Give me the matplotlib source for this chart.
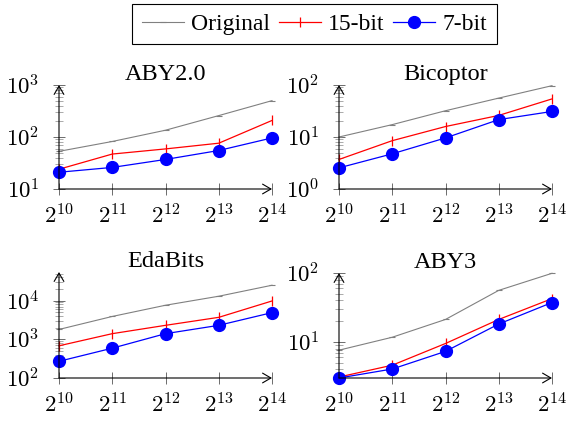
import matplotlib
matplotlib.use("Agg")
import matplotlib.pyplot as plt
from matplotlib.ticker import LogLocator, FixedLocator, NullFormatter, FixedFormatter

plt.rcParams['mathtext.fontset'] = 'cm'
plt.rcParams['font.family'] = ['Liberation Serif', 'DejaVu Serif']

x = [2**10, 2**11, 2**12, 2**13, 2**14]
xlabels = [r'$2^{10}$', r'$2^{11}$', r'$2^{12}$', r'$2^{13}$', r'$2^{14}$']

titles = ['ABY2.0', 'Bicoptor', 'EdaBits', 'ABY3']
series_names = ['Original', '15-bit', '7-bit']

aby2_original = [53, 82, 135, 258, 500]
aby2_15bit = [24, 47, 59, 76, 208]
aby2_7bit = [21, 26, 37, 55, 96]

bicoptor_original = [10, 17.3, 32, 56, 97]
bicoptor_15bit = [3.7, 8.5, 15.9, 26, 54]
bicoptor_7bit = [2.55, 4.75, 9.6, 21.6, 31]

edabits_original = [1800, 3900, 7600, 13000, 25000]
edabits_15bit = [680, 1400, 2300, 3700, 9800]
edabits_7bit = [270, 590, 1400, 2300, 4900]

aby3_original = [7.6, 11.7, 21.2, 56, 99]
aby3_15bit = [3.1, 4.6, 9.5, 21.2, 42.5]
aby3_7bit = [3.0, 4.05, 7.3, 18.2, 37.3]

ylims = [(10, 1000), (1, 100), (100, 55000), (3.0, 100)]
yticks = [[10, 100, 1000], [1, 10, 100], [100, 1000, 10000], [10, 100]]
ytlabels = [[r'$10^{1}$', r'$10^{2}$', r'$10^{3}$'],
            [r'$10^{0}$', r'$10^{1}$', r'$10^{2}$'],
            [r'$10^{2}$', r'$10^{3}$', r'$10^{4}$'],
            [r'$10^{1}$', r'$10^{2}$']]

data = [
    (aby2_original, aby2_15bit, aby2_7bit),
    (bicoptor_original, bicoptor_15bit, bicoptor_7bit),
    (edabits_original, edabits_15bit, edabits_7bit),
    (aby3_original, aby3_15bit, aby3_7bit),
]

W, H = 568, 422
fig = plt.figure(figsize=(W / 100, H / 100), dpi=100)

# axes boxes in pixels: (left, right, top, bottom)
boxes = [(59, 272, 85, 189), (339, 552, 85, 189), (59, 272, 272, 378), (339, 552, 273, 378)]

handles = None
for i, (l, r, t, b) in enumerate(boxes):
    ax = fig.add_axes([l / W, 1 - b / H, (r - l) / W, (b - t) / H])
    orig, s15, s7 = data[i]
    h1, = ax.plot(x, orig, color='#808080', lw=0.8, marker='_', ms=5, mew=0.8, clip_on=False)
    h2, = ax.plot(x, s15, color='red', lw=0.9, marker='|', ms=7, mew=0.9, clip_on=False)
    h3, = ax.plot(x, s7, color='blue', lw=0.9, marker='o', ms=8.5, mec='blue', clip_on=False, zorder=3)
    handles = [h1, h2, h3]
    ax.set_xscale('log', base=2)
    ax.set_yscale('log')
    ax.set_xlim(x[0], x[-1])
    ax.set_ylim(*ylims[i])
    ax.xaxis.set_major_locator(FixedLocator(x))
    ax.xaxis.set_major_formatter(FixedFormatter(xlabels))
    ax.xaxis.set_minor_locator(FixedLocator([]))
    ax.yaxis.set_major_locator(FixedLocator(yticks[i]))
    ax.yaxis.set_major_formatter(FixedFormatter(ytlabels[i]))
    ax.yaxis.set_minor_locator(LogLocator(base=10, subs=range(2, 10)))
    ax.yaxis.set_minor_formatter(NullFormatter())
    ax.tick_params(axis='both', which='major', direction='inout', length=8, width=0.6,
                   color='#555555', labelsize=16.5)
    ax.tick_params(axis='y', which='minor', direction='inout', length=6, width=0.5,
                   color='#888888')
    ax.tick_params(axis='x', which='major', pad=7)
    ax.tick_params(axis='y', which='major', pad=10)
    for s in ['top', 'right', 'left', 'bottom']:
        ax.spines[s].set_visible(False)
    ap = dict(arrowstyle='->,head_length=0.6,head_width=0.35', color='black', lw=0.8,
              shrinkA=0, shrinkB=0, mutation_scale=10)
    ax.annotate('', xy=(1, 0), xytext=(0, 0), xycoords='axes fraction',
                textcoords='axes fraction', arrowprops=ap, annotation_clip=False)
    ax.annotate('', xy=(0, 1), xytext=(0, 0), xycoords='axes fraction',
                textcoords='axes fraction', arrowprops=ap, annotation_clip=False)
    ax.set_title(titles[i], fontsize=17.5, pad=1)
    ax.patch.set_visible(False)

leg = fig.legend(handles, series_names, ncol=3, loc='upper center',
                 bbox_to_anchor=(314.5 / W, 1 - 4 / H), fontsize=17,
                 frameon=True, fancybox=False, edgecolor='black', framealpha=1,
                 handlelength=1.8, handletextpad=0.3, columnspacing=0.35,
                 borderpad=0.4, borderaxespad=0)
leg.get_frame().set_linewidth(0.8)

fig.savefig('out.png', dpi=100)
